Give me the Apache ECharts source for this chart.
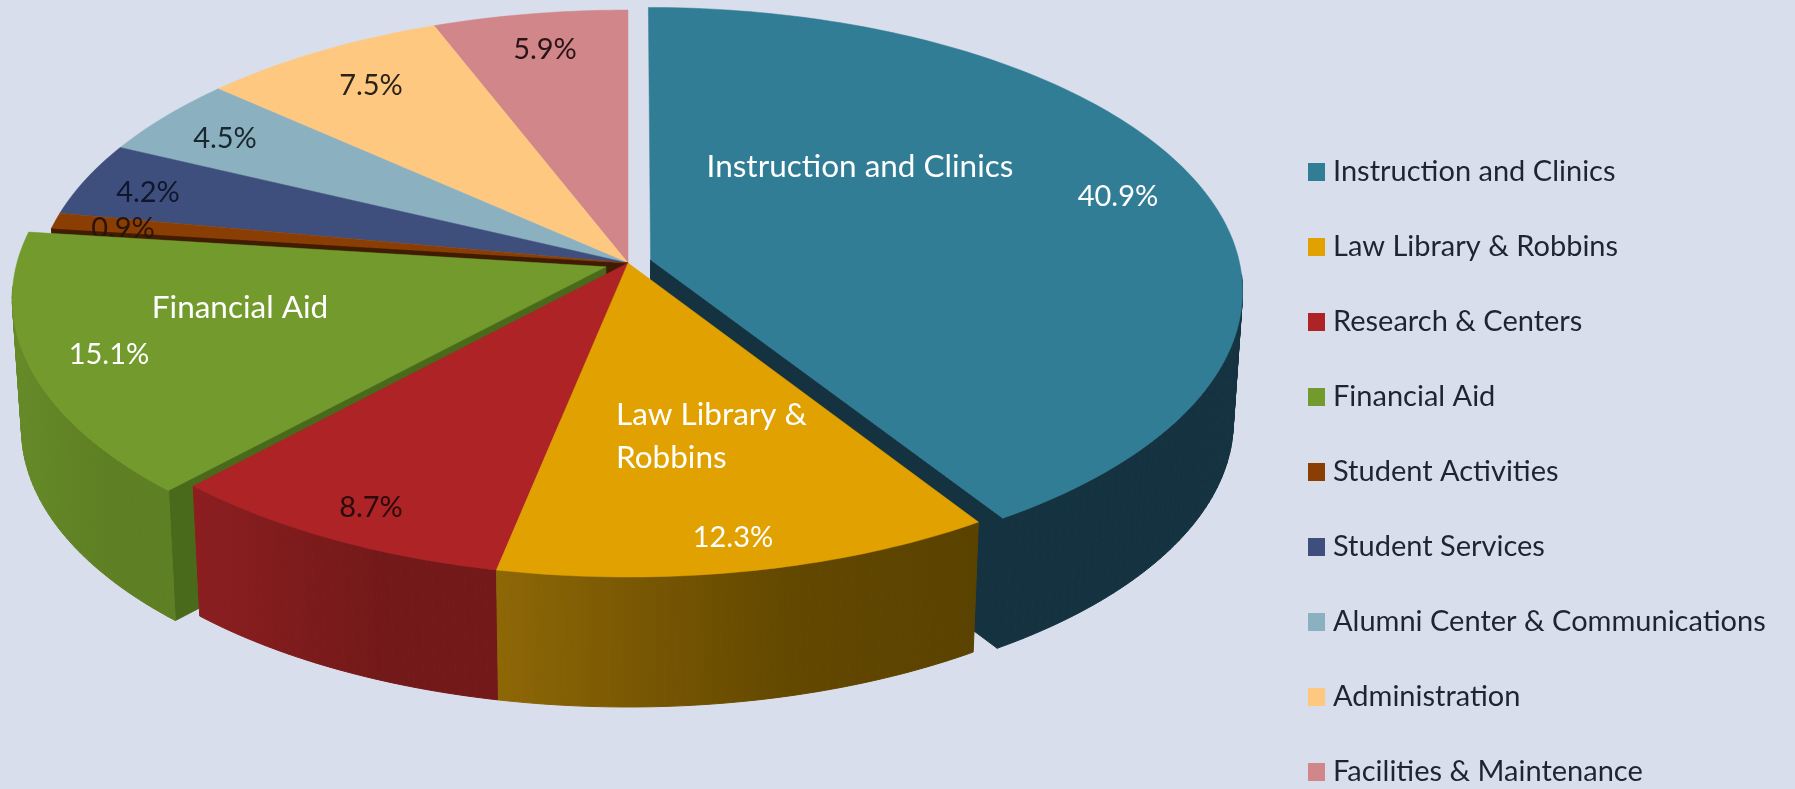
<!DOCTYPE html>
<html>
<head>
<meta charset="utf-8">
<title>Budget pie</title>
<script src="https://cdn.jsdelivr.net/npm/echarts@6/dist/echarts.min.js"></script>
<style>
  html, body { margin: 0; padding: 0; background: #d9deec; }
  #chart { width: 1795px; height: 789px; }
</style>
</head>
<body>
<div id="chart"></div>
<script>
// values, clockwise from 12 o'clock
const categories = ['Instruction and Clinics', 'Law Library & Robbins', 'Research & Centers', 'Financial Aid',
  'Student Activities', 'Student Services', 'Alumni Center & Communications', 'Administration', 'Facilities & Maintenance']
const shares = [40.9, 12.3, 8.7, 15.1, 0.9, 4.2, 4.5, 7.5, 5.9]
const shareLabels = ['40.9%', '12.3%', '8.7%', '15.1%', '0.9%', '4.2%', '4.5%', '7.5%', '5.9%']

// look
const topColors = ['#317d95', '#e1a100', '#ad2326', '#739a2c', '#8b3e04', '#3f4f7d', '#8bb1c1', '#ffc881', '#d1868a']
const wallStops = [['#14323f', '#14323f'], ['#8e6706', '#5a4200'], ['#8c1e20', '#741919'], ['#668a28', '#5e7f23']]
const innerWalls = { 0: '#14323f', 3: '#4a6a1b', 4: '#3f1c02' }
const exploded = [0.04, 0, 0, 0.04, 0, 0, 0, 0, 0]
// far slices first, the near ones paint over them
const drawOrder = [0, 8, 7, 6, 5, 4, 3, 2, 1]
// walls only exist on the near side of the disc
const wallFrom = { 0: 93 }
const wallTo = { 3: 266 }

// text that sits on the slices: [text, x, y, colour, font size, align]
const sliceText = {
  0: [['Instruction and Clinics', 860, 167, '#fff', 31.5], [shareLabels[0], 1118, 197, '#fff', 29]],
  1: [['Law Library &', 616, 415, '#fff', 31.5, 'left'], ['Robbins', 616, 458, '#fff', 31.5, 'left'], [shareLabels[1], 733, 538, '#fff', 29]],
  2: [[shareLabels[2], 371, 508, '#2a0a0a', 29]],
  3: [['Financial Aid', 240, 308, '#fff', 31.5], [shareLabels[3], 109, 355, '#fff', 29]],
  4: [[shareLabels[4], 123, 229, '#2a1408', 29]],
  5: [[shareLabels[5], 148, 193, '#10162e', 29]],
  6: [[shareLabels[6], 225, 139, '#1a2630', 29]],
  7: [[shareLabels[7], 371, 86, '#2a2418', 29]],
  8: [[shareLabels[8], 545, 50, '#2a1416', 29]]
}

// the tilted disc, a circle seen in perspective
const hubX = 628
const hubY = 263
const radiusX = 589
const radiusY = 280.2
const depth = 0.1076
const thickness = 130
const bottomShrink = 0.985

function project(u, v) {
  const w = 1 + depth * v
  return [hubX + radiusX * u / w, hubY - radiusY * v / w]
}
function toBottom(p) {
  return [hubX + (p[0] - hubX) * bottomShrink, p[1] + thickness]
}
function rimPoint(deg, off) {
  const a = deg * Math.PI / 180
  return project(Math.sin(a) + off[0], Math.cos(a) + off[1])
}
function rimArc(a0, a1, off) {
  const pts = []
  const n = Math.max(2, Math.ceil(a1 - a0))
  for (let i = 0; i <= n; i++) {
    pts.push(rimPoint(a0 + (a1 - a0) * i / n, off))
  }
  return pts
}

const startAngles = []
shares.reduce((sum, s, i) => {
  startAngles[i] = sum * 3.6
  return sum + s
}, 0)

function renderSlice(index) {
  return function(params, api) {
    const a0 = startAngles[index]
    const a1 = a0 + api.value(0) * 3.6
    const mid = (a0 + a1) / 2 * Math.PI / 180
    const off = [Math.sin(mid) * exploded[index], Math.cos(mid) * exploded[index]]
    const hub = project(off[0], off[1])
    const arc = rimArc(a0, a1, off)
    const children = []

    if (innerWalls[index]) {
      const edge = index === 0 ? arc[arc.length - 1] : arc[0]
      children.push({
        type: 'polygon',
        shape: { points: [hub, edge, toBottom(edge), toBottom(hub)] },
        style: { fill: innerWalls[index], stroke: innerWalls[index], lineWidth: 1 }
      })
    }
    if (wallStops[index]) {
      const wallArc = rimArc(wallFrom[index] || a0, wallTo[index] || a1, off)
      const xs = wallArc.map(p => p[0])
      // one quad per step so the sides of the disc come out straight
      const fill = new echarts.graphic.LinearGradient(Math.min(...xs), 0, Math.max(...xs), 0, [
        { offset: 0, color: wallStops[index][0] },
        { offset: 0.6, color: index === 1 ? '#634800' : wallStops[index][1] },
        { offset: 1, color: wallStops[index][1] }
      ], true)
      for (let i = 0; i < wallArc.length - 1; i++) {
        const p = wallArc[i]
        const q = wallArc[i + 1]
        children.push({
          type: 'polygon',
          shape: { points: [p, q, toBottom(q), toBottom(p)] },
          style: { fill: fill, stroke: fill, lineWidth: 1 }
        })
      }
    }
    children.push({
      type: 'polygon',
      shape: { points: [hub].concat(arc) },
      style: { fill: topColors[index], stroke: topColors[index], lineWidth: 0.5 }
    })
    ;(sliceText[index] || []).forEach(t => {
      children.push({
        type: 'text',
        style: {
          x: t[1],
          y: t[2],
          text: t[0],
          fill: t[3],
          font: t[4] + 'px Lato',
          align: t[5] || 'center',
          verticalAlign: 'middle'
        }
      })
    })
    return { type: 'group', children: children }
  }
}

const chart = echarts.init(document.getElementById('chart'))
chart.setOption({
  backgroundColor: '#d9deec',
  animation: false,
  tooltip: { show: false },
  legend: {
    data: categories,
    orient: 'vertical',
    left: 1308,
    top: 157,
    padding: 0,
    itemWidth: 17,
    itemHeight: 18,
    itemGap: 45,
    icon: 'rect',
    selectedMode: false,
    textStyle: {
      fontFamily: 'Lato',
      fontSize: 29,
      lineHeight: 30,
      color: '#1d2530',
      padding: [0, 0, 0, 3]
    }
  },
  series: drawOrder.map(i => ({
    type: 'custom',
    name: categories[i],
    coordinateSystem: 'none',
    silent: true,
    itemStyle: { color: topColors[i] },
    data: [[shares[i]]],
    renderItem: renderSlice(i)
  }))
})
</script>
</body>
</html>
